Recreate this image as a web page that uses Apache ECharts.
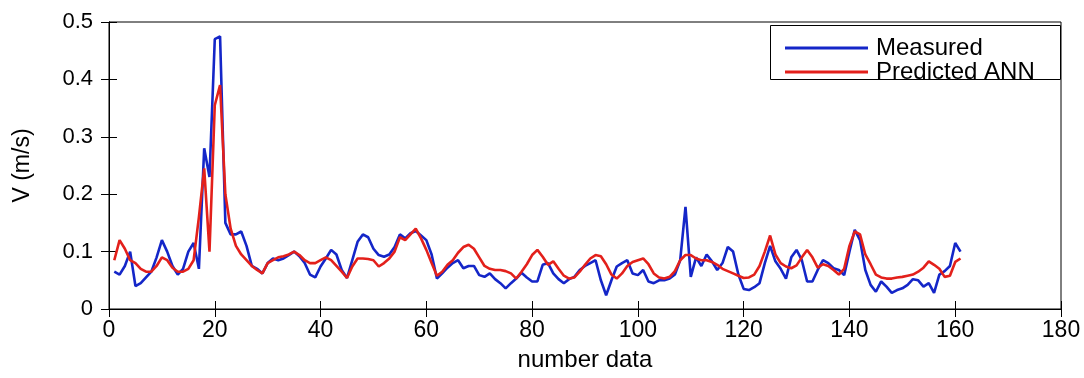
<!DOCTYPE html>
<html>
<head>
<meta charset="utf-8">
<script src="https://cdn.jsdelivr.net/npm/echarts@6/dist/echarts.min.js"></script>
<style>
  html, body { margin: 0; padding: 0; background: #fff; }
  #chart { width: 1084px; height: 378px; }
</style>
</head>
<body>
<div id="chart"></div>
<script>
// samples 1..161
let measured = [
  0.065, 0.06, 0.075, 0.10, 0.04, 0.045, 0.055, 0.065, 0.09, 0.12,
  0.10, 0.075, 0.06, 0.07, 0.10, 0.115, 0.07, 0.28, 0.23, 0.47,
  0.475, 0.15, 0.13, 0.13, 0.135, 0.11, 0.075, 0.07, 0.062, 0.08,
  0.088, 0.085, 0.088, 0.094, 0.10, 0.092, 0.08, 0.06, 0.055, 0.074,
  0.088, 0.103, 0.095, 0.068, 0.054, 0.085, 0.117, 0.13, 0.125, 0.105,
  0.094, 0.091, 0.095, 0.108, 0.13, 0.123, 0.132, 0.136, 0.128, 0.12,
  0.095, 0.053, 0.062, 0.072, 0.08, 0.085, 0.071, 0.075, 0.075, 0.059,
  0.056, 0.062, 0.052, 0.045, 0.036, 0.045, 0.053, 0.063, 0.055, 0.048,
  0.048, 0.077, 0.08, 0.062, 0.052, 0.045, 0.052, 0.056, 0.068, 0.075,
  0.08, 0.085, 0.05, 0.024, 0.05, 0.074, 0.08, 0.085, 0.062, 0.059,
  0.068, 0.048, 0.045, 0.05, 0.05, 0.053, 0.06, 0.085, 0.178, 0.056,
  0.09, 0.075, 0.095, 0.083, 0.068, 0.08, 0.108, 0.10, 0.06, 0.035,
  0.033, 0.038, 0.045, 0.08, 0.11, 0.083, 0.07, 0.053, 0.09, 0.103,
  0.085, 0.048, 0.048, 0.068, 0.085, 0.08, 0.071, 0.068, 0.059, 0.10,
  0.138, 0.12, 0.068, 0.042, 0.03, 0.048, 0.039, 0.028, 0.033, 0.036,
  0.042, 0.052, 0.05, 0.039, 0.045, 0.028, 0.06, 0.066, 0.075, 0.115,
  0.10
];
let predicted = [
  0.085, 0.12, 0.105, 0.085, 0.08, 0.07, 0.065, 0.065, 0.075, 0.09,
  0.085, 0.072, 0.065, 0.065, 0.07, 0.085, 0.16, 0.245, 0.10, 0.355,
  0.39, 0.20, 0.14, 0.11, 0.095, 0.085, 0.075, 0.068, 0.062, 0.08,
  0.085, 0.09, 0.092, 0.095, 0.10, 0.094, 0.085, 0.08, 0.08, 0.085,
  0.09, 0.085, 0.075, 0.065, 0.054, 0.074, 0.088, 0.088, 0.087, 0.085,
  0.074, 0.08, 0.088, 0.10, 0.125, 0.12, 0.13, 0.14, 0.123, 0.103,
  0.08, 0.058, 0.065, 0.077, 0.085, 0.098, 0.108, 0.112, 0.105, 0.09,
  0.075, 0.07, 0.068, 0.068, 0.066, 0.062, 0.053, 0.065, 0.078, 0.094,
  0.103, 0.091, 0.077, 0.083, 0.07, 0.058, 0.053, 0.055, 0.065, 0.077,
  0.088, 0.094, 0.092, 0.078, 0.06, 0.053, 0.062, 0.075, 0.082, 0.085,
  0.088, 0.078, 0.062, 0.055, 0.053, 0.056, 0.066, 0.085, 0.094, 0.094,
  0.088, 0.085, 0.085, 0.082, 0.077, 0.07, 0.066, 0.062, 0.058, 0.054,
  0.055, 0.06, 0.075, 0.10, 0.128, 0.095, 0.08, 0.074, 0.071, 0.076,
  0.09, 0.103, 0.09, 0.072, 0.078, 0.075, 0.068, 0.06, 0.07, 0.11,
  0.135, 0.13, 0.095, 0.078, 0.06, 0.055, 0.053, 0.053, 0.055, 0.056,
  0.058, 0.06, 0.065, 0.072, 0.083, 0.077, 0.07, 0.056, 0.058, 0.082,
  0.088
];
let xTicks = [0, 180, 20];
let yTicks = [0, 0.5, 0.1];

function pairs(arr) {
  return arr.map(function (v, i) { return [i + 1, v]; });
}

let font = "Liberation Sans, Arial, sans-serif";
let tick = { show: true, inside: true, length: 8, lineStyle: { color: "#000" } };
let axLine = { show: true, lineStyle: { color: "#000", width: 1 } };

let chart = echarts.init(document.getElementById("chart"));
chart.setOption({
  backgroundColor: "#fff",
  animation: false,
  textStyle: { fontFamily: font, color: "#000" },
  grid: { left: 109, right: 23, top: 22, bottom: 69, show: true, borderColor: "#000", borderWidth: 1 },
  legend: {
    data: ["Measured", "Predicted ANN"],
    orient: "vertical",
    left: 785,
    top: 36,
    padding: 0,
    itemGap: 0,
    itemWidth: 83,
    itemHeight: 3,
    icon: "rect",
    textStyle: { fontSize: 24, lineHeight: 21, color: "#000", fontFamily: font, padding: [0, 0, 0, 3] },
  },
  graphic: [{
    type: "rect",
    left: 770,
    top: 25,
    shape: { width: 290, height: 54 },
    style: { fill: "#fff", stroke: "#000", lineWidth: 1 },
    z: 1,
  }],
  xAxis: [
    {
      type: "value",
      min: xTicks[0], max: xTicks[1], interval: xTicks[2],
      name: "number data",
      nameLocation: "middle",
      nameGap: 39,
      nameTextStyle: { fontSize: 24, color: "#000", fontFamily: font },
      axisLine: axLine, axisTick: tick,
      axisLabel: { fontSize: 23, color: "#000", margin: 10, fontFamily: font },
      splitLine: { show: false },
    },
    {
      type: "value", position: "top",
      min: xTicks[0], max: xTicks[1], interval: xTicks[2],
      axisLine: axLine, axisTick: tick, axisLabel: { show: false }, splitLine: { show: false },
    },
  ],
  yAxis: [
    {
      type: "value",
      min: yTicks[0], max: yTicks[1], interval: yTicks[2],
      name: "V (m/s)",
      nameLocation: "middle",
      nameGap: 75,
      nameTextStyle: { fontSize: 23, color: "#000", fontFamily: font },
      axisLine: axLine, axisTick: tick,
      axisLabel: { fontSize: 22, color: "#000", margin: 16, fontFamily: font },
      splitLine: { show: false },
    },
    {
      type: "value", position: "right",
      min: yTicks[0], max: yTicks[1], interval: yTicks[2],
      axisLine: axLine, axisTick: tick, axisLabel: { show: false }, splitLine: { show: false },
    },
  ],
  series: [
    {
      name: "Measured",
      type: "line",
      data: pairs(measured),
      showSymbol: false,
      color: "#1426c8",
      lineStyle: { width: 2.6, color: "#1426c8" },
      z: 3,
    },
    {
      name: "Predicted ANN",
      type: "line",
      data: pairs(predicted),
      showSymbol: false,
      color: "#e3201b",
      lineStyle: { width: 2.6, color: "#e3201b" },
      z: 4,
    },
  ],
});
</script>
</body>
</html>
